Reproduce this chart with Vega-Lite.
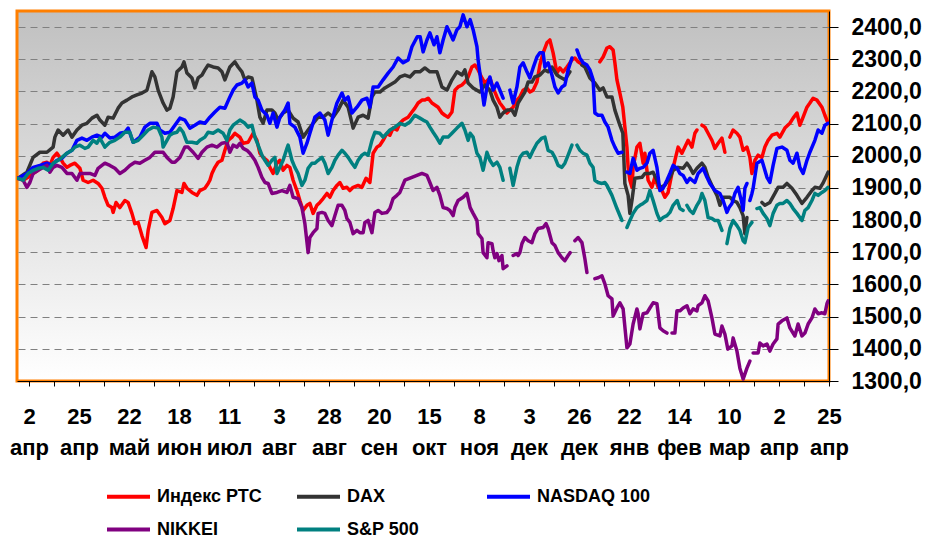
{
"$schema":"https://vega.github.io/schema/vega-lite/v6.json",
"width":812,"height":370,
"autosize":{"type":"none"},
"padding":{"left":17,"top":11,"right":99,"bottom":163},
"background":"#ffffff",
"data":{"values":[
{"s":"Индекс РТС","i":-3.7,"v":1930},{"s":"Индекс РТС","i":-2.0,"v":1924},{"s":"Индекс РТС","i":-0.3,"v":1933},{"s":"Индекс РТС","i":1.4,"v":1945},{"s":"Индекс РТС","i":3.1,"v":1955},{"s":"Индекс РТС","i":4.8,"v":1977},{"s":"Индекс РТС","i":6.1,"v":1980},{"s":"Индекс РТС","i":7.1,"v":1970},{"s":"Индекс РТС","i":8.2,"v":1995},{"s":"Индекс РТС","i":9.5,"v":2008},{"s":"Индекс РТС","i":10.5,"v":1995},{"s":"Индекс РТС","i":11.6,"v":1977},{"s":"Индекс РТС","i":12.9,"v":1964},{"s":"Индекс РТС","i":13.9,"v":1970},{"s":"Индекс РТС","i":15.6,"v":1977},{"s":"Индекс РТС","i":17.3,"v":1961},{"s":"Индекс РТС","i":18.4,"v":1924},{"s":"Индекс РТС","i":20.1,"v":1917},{"s":"Индекс РТС","i":21.8,"v":1924},{"s":"Индекс РТС","i":23.5,"v":1914},{"s":"Индекс РТС","i":24.8,"v":1899},{"s":"Индекс РТС","i":25.8,"v":1871},{"s":"Индекс РТС","i":26.9,"v":1846},{"s":"Индекс РТС","i":28.2,"v":1839},{"s":"Индекс РТС","i":28.6,"v":1824},{"s":"Индекс РТС","i":29.6,"v":1855},{"s":"Индекс РТС","i":30.9,"v":1839},{"s":"Индекс РТС","i":32.6,"v":1861},{"s":"Индекс РТС","i":33.7,"v":1855},{"s":"Индекс РТС","i":35.0,"v":1821},{"s":"Индекс РТС","i":36.0,"v":1789},{"s":"Индекс РТС","i":37.1,"v":1793},{"s":"Индекс РТС","i":38.4,"v":1752},{"s":"Индекс РТС","i":39.8,"v":1715},{"s":"Индекс РТС","i":40.5,"v":1768},{"s":"Индекс РТС","i":41.8,"v":1824},{"s":"Индекс РТС","i":43.5,"v":1830},{"s":"Индекс РТС","i":45.2,"v":1808},{"s":"Индекс РТС","i":46.2,"v":1789},{"s":"Индекс РТС","i":47.9,"v":1799},{"s":"Индекс РТС","i":49.0,"v":1836},{"s":"Индекс РТС","i":50.3,"v":1892},{"s":"Индекс РТС","i":52.0,"v":1886},{"s":"Индекс РТС","i":52.7,"v":1914},{"s":"Индекс РТС","i":53.7,"v":1899},{"s":"Индекс РТС","i":55.4,"v":1886},{"s":"Индекс РТС","i":57.1,"v":1877},{"s":"Индекс РТС","i":58.1,"v":1892},{"s":"Индекс РТС","i":59.8,"v":1899},{"s":"Индекс РТС","i":60.9,"v":1914},{"s":"Индекс РТС","i":61.5,"v":1924},{"s":"Индекс РТС","i":62.2,"v":1945},{"s":"Индекс РТС","i":63.2,"v":1964},{"s":"Индекс РТС","i":64.3,"v":1980},{"s":"Индекс РТС","i":65.6,"v":1986},{"s":"Индекс РТС","i":66.6,"v":2017},{"s":"Индекс РТС","i":67.7,"v":2048},{"s":"Индекс РТС","i":69.0,"v":2058},{"s":"Индекс РТС","i":70.0,"v":2070},{"s":"Индекс РТС","i":71.7,"v":2058},{"s":"Индекс РТС","i":72.8,"v":2039},{"s":"Индекс РТС","i":74.5,"v":2042},{"s":"Индекс РТС","i":76.2,"v":2070},{"s":"Индекс РТС","i":77.5,"v":2048},{"s":"Индекс РТС","i":78.5,"v":2008},{"s":"Индекс РТС","i":79.6,"v":1995},{"s":"Индекс РТС","i":80.9,"v":1986},{"s":"Индекс РТС","i":81.9,"v":1964},{"s":"Индекс РТС","i":83.0,"v":1945},{"s":"Индекс РТС","i":84.3,"v":1977},{"s":"Индекс РТС","i":85.3,"v":1986},{"s":"Индекс РТС","i":86.4,"v":1955},{"s":"Индекс РТС","i":87.7,"v":1970},{"s":"Индекс РТС","i":88.7,"v":1964},{"s":"Индекс РТС","i":89.8,"v":1924},{"s":"Индекс РТС","i":91.1,"v":1892},{"s":"Индекс РТС","i":92.1,"v":1861},{"s":"Индекс РТС","i":93.2,"v":1830},{"s":"Индекс РТС","i":94.5,"v":1846},{"s":"Индекс РТС","i":95.5,"v":1852},{"s":"Индекс РТС","i":96.6,"v":1821},{"s":"Индекс РТС","i":97.9,"v":1846},{"s":"Индекс РТС","i":98.9,"v":1855},{"s":"Индекс РТС","i":100.0,"v":1867},{"s":"Индекс РТС","i":101.3,"v":1883},{"s":"Индекс РТС","i":102.3,"v":1871},{"s":"Индекс РТС","i":103.4,"v":1892},{"s":"Индекс РТС","i":104.7,"v":1908},{"s":"Индекс РТС","i":105.7,"v":1917},{"s":"Индекс РТС","i":106.8,"v":1899},{"s":"Индекс РТС","i":108.1,"v":1902},{"s":"Индекс РТС","i":109.1,"v":1892},{"s":"Индекс РТС","i":110.2,"v":1902},{"s":"Индекс РТС","i":111.9,"v":1908},{"s":"Индекс РТС","i":113.2,"v":1902},{"s":"Индекс РТС","i":114.6,"v":1930},{"s":"Индекс РТС","i":115.9,"v":1917},{"s":"Индекс РТС","i":117.0,"v":2008},{"s":"Индекс РТС","i":118.3,"v":2027},{"s":"Индекс РТС","i":119.3,"v":2033},{"s":"Индекс РТС","i":120.4,"v":2048},{"s":"Индекс РТС","i":121.7,"v":2070},{"s":"Индекс РТС","i":122.7,"v":2064},{"s":"Индекс РТС","i":123.8,"v":2086},{"s":"Индекс РТС","i":125.1,"v":2080},{"s":"Индекс РТС","i":126.1,"v":2101},{"s":"Индекс РТС","i":127.2,"v":2111},{"s":"Индекс РТС","i":128.9,"v":2120},{"s":"Индекс РТС","i":130.2,"v":2136},{"s":"Индекс РТС","i":131.2,"v":2148},{"s":"Индекс РТС","i":132.3,"v":2164},{"s":"Индекс РТС","i":133.6,"v":2173},{"s":"Индекс РТС","i":134.6,"v":2173},{"s":"Индекс РТС","i":135.7,"v":2179},{"s":"Индекс РТС","i":137.0,"v":2164},{"s":"Индекс РТС","i":138.0,"v":2158},{"s":"Индекс РТС","i":139.1,"v":2151},{"s":"Индекс РТС","i":140.4,"v":2133},{"s":"Индекс РТС","i":141.4,"v":2126},{"s":"Индекс РТС","i":142.5,"v":2120},{"s":"Индекс РТС","i":143.8,"v":2136},{"s":"Индекс РТС","i":144.8,"v":2204},{"s":"Индекс РТС","i":145.9,"v":2214},{"s":"Индекс РТС","i":147.2,"v":2220},{"s":"Индекс РТС","i":148.2,"v":2229},{"s":"Индекс РТС","i":149.3,"v":2245},{"s":"Индекс РТС","i":150.6,"v":2276},{"s":"Индекс РТС","i":151.6,"v":2282},{"s":"Индекс РТС","i":152.7,"v":2267},{"s":"Индекс РТС","i":154.0,"v":2242},{"s":"Индекс РТС","i":155.0,"v":2226},{"s":"Индекс РТС","i":156.7,"v":2242},{"s":"Индекс РТС","i":157.8,"v":2211},{"s":"Индекс РТС","i":159.1,"v":2183},{"s":"Индекс РТС","i":160.1,"v":2164},{"s":"Индекс РТС","i":161.2,"v":2151},{"s":"Индекс РТС","i":162.5,"v":2133},{"s":"Индекс РТС","i":163.5,"v":2142},{"s":"Индекс РТС","i":164.6,"v":2151},{"s":"Индекс РТС","i":165.9,"v":2173},{"s":"Индекс РТС","i":166.9,"v":2183},{"s":"Индекс РТС","i":168.0,"v":2204},{"s":"Индекс РТС","i":169.3,"v":2211},{"s":"Индекс РТС","i":170.3,"v":2198},{"s":"Индекс РТС","i":171.4,"v":2204},{"s":"Индекс РТС","i":172.7,"v":2229},{"s":"Индекс РТС","i":173.7,"v":2282},{"s":"Индекс РТС","i":174.8,"v":2320},{"s":"Индекс РТС","i":176.1,"v":2351},{"s":"Индекс РТС","i":177.1,"v":2360},{"s":"Индекс РТС","i":178.2,"v":2320},{"s":"Индекс РТС","i":179.5,"v":2257},{"s":"Индекс РТС","i":180.5,"v":2273},{"s":"Индекс РТС","i":181.6,"v":2261},{"s":"Индекс РТС","i":182.9,"v":2276},{"s":"Индекс РТС","i":184.6,"v":2298},{"s":"Индекс РТС","i":185.6,"v":2304},{"s":"Индекс РТС","i":186.7,"v":2292},{"s":"Индекс РТС","i":188.4,"v":2282},{"s":"Индекс РТС","i":192.0,"v":null},{"s":"Индекс РТС","i":194.1,"v":2292},{"s":"Индекс РТС","i":195.2,"v":2307},{"s":"Индекс РТС","i":196.5,"v":2335},{"s":"Индекс РТС","i":197.5,"v":2339},{"s":"Индекс РТС","i":198.6,"v":2329},{"s":"Индекс РТС","i":199.2,"v":2289},{"s":"Индекс РТС","i":199.9,"v":2236},{"s":"Индекс РТС","i":200.9,"v":2195},{"s":"Индекс РТС","i":201.9,"v":2151},{"s":"Индекс РТС","i":202.6,"v":2089},{"s":"Индекс РТС","i":203.3,"v":2027},{"s":"Индекс РТС","i":203.7,"v":1964},{"s":"Индекс РТС","i":204.3,"v":1924},{"s":"Индекс РТС","i":205.0,"v":1902},{"s":"Индекс РТС","i":205.4,"v":1964},{"s":"Индекс РТС","i":206.7,"v":2027},{"s":"Индекс РТС","i":207.7,"v":2039},{"s":"Индекс РТС","i":208.8,"v":1977},{"s":"Индекс РТС","i":209.4,"v":2008},{"s":"Индекс РТС","i":210.5,"v":1924},{"s":"Индекс РТС","i":211.8,"v":1902},{"s":"Индекс РТС","i":212.8,"v":1933},{"s":"Индекс РТС","i":213.9,"v":1902},{"s":"Индекс РТС","i":215.2,"v":1892},{"s":"Индекс РТС","i":216.2,"v":1871},{"s":"Индекс РТС","i":217.3,"v":1886},{"s":"Индекс РТС","i":218.6,"v":1945},{"s":"Индекс РТС","i":219.6,"v":1986},{"s":"Индекс РТС","i":220.7,"v":2027},{"s":"Индекс РТС","i":222.0,"v":2008},{"s":"Индекс РТС","i":223.0,"v":2027},{"s":"Индекс РТС","i":224.1,"v":2048},{"s":"Индекс РТС","i":225.4,"v":2027},{"s":"Индекс РТС","i":226.4,"v":2070},{"s":"Индекс РТС","i":227.1,"v":2080},{"s":"Индекс РТС","i":228.0,"v":null},{"s":"Индекс РТС","i":228.8,"v":2095},{"s":"Индекс РТС","i":229.8,"v":2089},{"s":"Индекс РТС","i":230.9,"v":2070},{"s":"Индекс РТС","i":232.2,"v":2048},{"s":"Индекс РТС","i":233.2,"v":2023},{"s":"Индекс РТС","i":234.3,"v":2039},{"s":"Индекс РТС","i":235.6,"v":2055},{"s":"Индекс РТС","i":236.6,"v":2011},{"s":"Индекс РТС","i":237.5,"v":null},{"s":"Индекс РТС","i":238.3,"v":2058},{"s":"Индекс РТС","i":239.4,"v":2080},{"s":"Индекс РТС","i":240.7,"v":2070},{"s":"Индекс РТС","i":241.7,"v":2058},{"s":"Индекс РТС","i":242.8,"v":2017},{"s":"Индекс РТС","i":244.1,"v":2027},{"s":"Индекс РТС","i":245.1,"v":1995},{"s":"Индекс РТС","i":245.8,"v":1945},{"s":"Индекс РТС","i":246.8,"v":1986},{"s":"Индекс РТС","i":247.9,"v":2002},{"s":"Индекс РТС","i":249.2,"v":1995},{"s":"Индекс РТС","i":250.2,"v":2027},{"s":"Индекс РТС","i":251.3,"v":2048},{"s":"Индекс РТС","i":252.6,"v":2064},{"s":"Индекс РТС","i":254.3,"v":2070},{"s":"Индекс РТС","i":255.3,"v":2058},{"s":"Индекс РТС","i":257.0,"v":2086},{"s":"Индекс РТС","i":258.7,"v":2101},{"s":"Индекс РТС","i":259.8,"v":2117},{"s":"Индекс РТС","i":261.1,"v":2133},{"s":"Индекс РТС","i":262.1,"v":2095},{"s":"Индекс РТС","i":263.2,"v":2120},{"s":"Индекс РТС","i":264.5,"v":2151},{"s":"Индекс РТС","i":265.5,"v":2164},{"s":"Индекс РТС","i":266.6,"v":2179},{"s":"Индекс РТС","i":267.9,"v":2173},{"s":"Индекс РТС","i":269.6,"v":2151},{"s":"Индекс РТС","i":270.6,"v":2126},{"s":"Индекс РТС","i":271.7,"v":2101},

{"s":"DAX","i":-3.7,"v":1930},{"s":"DAX","i":-0.7,"v":1949},{"s":"DAX","i":1.4,"v":1995},{"s":"DAX","i":3.7,"v":2011},{"s":"DAX","i":6.1,"v":2011},{"s":"DAX","i":8.2,"v":2027},{"s":"DAX","i":8.8,"v":2058},{"s":"DAX","i":9.9,"v":2080},{"s":"DAX","i":11.6,"v":2064},{"s":"DAX","i":13.3,"v":2080},{"s":"DAX","i":14.6,"v":2058},{"s":"DAX","i":16.3,"v":2080},{"s":"DAX","i":18.0,"v":2095},{"s":"DAX","i":19.7,"v":2101},{"s":"DAX","i":21.4,"v":2117},{"s":"DAX","i":23.1,"v":2126},{"s":"DAX","i":24.1,"v":2111},{"s":"DAX","i":25.8,"v":2095},{"s":"DAX","i":26.9,"v":2120},{"s":"DAX","i":28.6,"v":2117},{"s":"DAX","i":30.3,"v":2148},{"s":"DAX","i":31.6,"v":2164},{"s":"DAX","i":33.3,"v":2173},{"s":"DAX","i":35.0,"v":2183},{"s":"DAX","i":36.7,"v":2189},{"s":"DAX","i":38.4,"v":2195},{"s":"DAX","i":40.1,"v":2204},{"s":"DAX","i":41.8,"v":2261},{"s":"DAX","i":42.8,"v":2245},{"s":"DAX","i":43.9,"v":2204},{"s":"DAX","i":45.6,"v":2164},{"s":"DAX","i":46.9,"v":2142},{"s":"DAX","i":47.9,"v":2148},{"s":"DAX","i":49.0,"v":2183},{"s":"DAX","i":50.3,"v":2261},{"s":"DAX","i":52.0,"v":2276},{"s":"DAX","i":52.7,"v":2292},{"s":"DAX","i":53.7,"v":2257},{"s":"DAX","i":55.4,"v":2242},{"s":"DAX","i":56.4,"v":2211},{"s":"DAX","i":57.5,"v":2242},{"s":"DAX","i":58.8,"v":2251},{"s":"DAX","i":59.8,"v":2267},{"s":"DAX","i":60.9,"v":2282},{"s":"DAX","i":62.6,"v":2276},{"s":"DAX","i":64.3,"v":2273},{"s":"DAX","i":65.6,"v":2261},{"s":"DAX","i":66.6,"v":2236},{"s":"DAX","i":68.3,"v":2276},{"s":"DAX","i":70.0,"v":2292},{"s":"DAX","i":71.1,"v":2276},{"s":"DAX","i":72.4,"v":2261},{"s":"DAX","i":73.4,"v":2236},{"s":"DAX","i":74.5,"v":2245},{"s":"DAX","i":75.8,"v":2242},{"s":"DAX","i":76.5,"v":2214},{"s":"DAX","i":77.5,"v":2173},{"s":"DAX","i":78.5,"v":2120},{"s":"DAX","i":79.6,"v":2101},{"s":"DAX","i":80.9,"v":2142},{"s":"DAX","i":82.6,"v":2142},{"s":"DAX","i":83.6,"v":2133},{"s":"DAX","i":84.7,"v":2111},{"s":"DAX","i":86.4,"v":2133},{"s":"DAX","i":88.1,"v":2142},{"s":"DAX","i":89.8,"v":2117},{"s":"DAX","i":91.5,"v":2105},{"s":"DAX","i":93.2,"v":2058},{"s":"DAX","i":94.9,"v":2080},{"s":"DAX","i":96.6,"v":2101},{"s":"DAX","i":98.3,"v":2120},{"s":"DAX","i":100.0,"v":2120},{"s":"DAX","i":101.7,"v":2133},{"s":"DAX","i":103.4,"v":2120},{"s":"DAX","i":105.1,"v":2142},{"s":"DAX","i":106.8,"v":2173},{"s":"DAX","i":108.5,"v":2151},{"s":"DAX","i":110.2,"v":2086},{"s":"DAX","i":111.9,"v":2120},{"s":"DAX","i":113.6,"v":2126},{"s":"DAX","i":115.3,"v":2117},{"s":"DAX","i":116.6,"v":2183},{"s":"DAX","i":117.6,"v":2198},{"s":"DAX","i":119.3,"v":2198},{"s":"DAX","i":121.0,"v":2211},{"s":"DAX","i":122.7,"v":2220},{"s":"DAX","i":124.4,"v":2229},{"s":"DAX","i":126.1,"v":2245},{"s":"DAX","i":127.8,"v":2251},{"s":"DAX","i":129.5,"v":2245},{"s":"DAX","i":131.2,"v":2261},{"s":"DAX","i":132.9,"v":2261},{"s":"DAX","i":134.6,"v":2273},{"s":"DAX","i":136.3,"v":2261},{"s":"DAX","i":138.7,"v":2261},{"s":"DAX","i":140.4,"v":2214},{"s":"DAX","i":142.1,"v":2204},{"s":"DAX","i":143.8,"v":2236},{"s":"DAX","i":145.5,"v":2261},{"s":"DAX","i":147.2,"v":2251},{"s":"DAX","i":148.2,"v":2267},{"s":"DAX","i":149.3,"v":2226},{"s":"DAX","i":151.0,"v":2211},{"s":"DAX","i":153.3,"v":2198},{"s":"DAX","i":155.0,"v":2220},{"s":"DAX","i":156.7,"v":2204},{"s":"DAX","i":157.8,"v":2173},{"s":"DAX","i":159.1,"v":2151},{"s":"DAX","i":160.1,"v":2120},{"s":"DAX","i":161.2,"v":2133},{"s":"DAX","i":162.5,"v":2142},{"s":"DAX","i":164.2,"v":2142},{"s":"DAX","i":165.2,"v":2126},{"s":"DAX","i":166.3,"v":2164},{"s":"DAX","i":167.6,"v":2183},{"s":"DAX","i":168.6,"v":2198},{"s":"DAX","i":169.7,"v":2229},{"s":"DAX","i":171.0,"v":2229},{"s":"DAX","i":172.0,"v":2245},{"s":"DAX","i":173.7,"v":2251},{"s":"DAX","i":175.4,"v":2267},{"s":"DAX","i":176.5,"v":2261},{"s":"DAX","i":177.8,"v":2276},{"s":"DAX","i":179.5,"v":2251},{"s":"DAX","i":180.5,"v":2245},{"s":"DAX","i":182.2,"v":2236},{"s":"DAX","i":183.9,"v":2261},{"s":"DAX","i":186.0,"v":null},{"s":"DAX","i":188.0,"v":2282},{"s":"DAX","i":189.0,"v":2276},{"s":"DAX","i":190.7,"v":2242},{"s":"DAX","i":192.4,"v":2226},{"s":"DAX","i":194.1,"v":2204},{"s":"DAX","i":195.2,"v":2211},{"s":"DAX","i":196.5,"v":2183},{"s":"DAX","i":198.2,"v":2183},{"s":"DAX","i":199.2,"v":2142},{"s":"DAX","i":200.9,"v":2095},{"s":"DAX","i":201.9,"v":2070},{"s":"DAX","i":202.6,"v":1914},{"s":"DAX","i":203.7,"v":1877},{"s":"DAX","i":204.3,"v":1821},{"s":"DAX","i":205.0,"v":1861},{"s":"DAX","i":206.0,"v":1930},{"s":"DAX","i":208.4,"v":1933},{"s":"DAX","i":209.4,"v":1945},{"s":"DAX","i":211.1,"v":1945},{"s":"DAX","i":212.2,"v":1949},{"s":"DAX","i":213.5,"v":1924},{"s":"DAX","i":214.5,"v":1902},{"s":"DAX","i":216.2,"v":1908},{"s":"DAX","i":218.0,"v":1933},{"s":"DAX","i":219.0,"v":1955},{"s":"DAX","i":220.7,"v":1964},{"s":"DAX","i":222.4,"v":1961},{"s":"DAX","i":223.7,"v":1977},{"s":"DAX","i":224.7,"v":1964},{"s":"DAX","i":225.8,"v":1945},{"s":"DAX","i":227.1,"v":1961},{"s":"DAX","i":228.8,"v":1977},{"s":"DAX","i":229.8,"v":1964},{"s":"DAX","i":230.9,"v":1933},{"s":"DAX","i":232.2,"v":1908},{"s":"DAX","i":233.9,"v":1877},{"s":"DAX","i":234.9,"v":1846},{"s":"DAX","i":236.0,"v":1871},{"s":"DAX","i":238.3,"v":1871},{"s":"DAX","i":239.4,"v":1861},{"s":"DAX","i":240.7,"v":1855},{"s":"DAX","i":241.7,"v":1839},{"s":"DAX","i":242.8,"v":1814},{"s":"DAX","i":243.4,"v":1758},{"s":"DAX","i":244.1,"v":1808},{"s":"DAX","i":246.5,"v":null},{"s":"DAX","i":249.2,"v":1855},{"s":"DAX","i":250.2,"v":1846},{"s":"DAX","i":251.9,"v":1855},{"s":"DAX","i":253.6,"v":1883},{"s":"DAX","i":254.7,"v":1902},{"s":"DAX","i":256.4,"v":1902},{"s":"DAX","i":257.7,"v":1914},{"s":"DAX","i":259.4,"v":1899},{"s":"DAX","i":261.1,"v":1877},{"s":"DAX","i":262.8,"v":1852},{"s":"DAX","i":264.5,"v":1871},{"s":"DAX","i":266.2,"v":1892},{"s":"DAX","i":267.2,"v":1902},{"s":"DAX","i":268.9,"v":1899},{"s":"DAX","i":269.9,"v":1914},{"s":"DAX","i":271.7,"v":1949},

{"s":"NASDAQ 100","i":-3.7,"v":1930},{"s":"NASDAQ 100","i":-0.7,"v":1945},{"s":"NASDAQ 100","i":1.4,"v":1964},{"s":"NASDAQ 100","i":3.7,"v":1970},{"s":"NASDAQ 100","i":6.1,"v":1977},{"s":"NASDAQ 100","i":7.8,"v":1970},{"s":"NASDAQ 100","i":9.5,"v":1986},{"s":"NASDAQ 100","i":11.2,"v":1992},{"s":"NASDAQ 100","i":12.9,"v":2008},{"s":"NASDAQ 100","i":14.6,"v":2017},{"s":"NASDAQ 100","i":16.3,"v":2048},{"s":"NASDAQ 100","i":18.0,"v":2055},{"s":"NASDAQ 100","i":19.7,"v":2048},{"s":"NASDAQ 100","i":21.4,"v":2058},{"s":"NASDAQ 100","i":23.1,"v":2064},{"s":"NASDAQ 100","i":24.8,"v":2058},{"s":"NASDAQ 100","i":25.8,"v":2070},{"s":"NASDAQ 100","i":27.5,"v":2055},{"s":"NASDAQ 100","i":29.2,"v":2058},{"s":"NASDAQ 100","i":30.9,"v":2070},{"s":"NASDAQ 100","i":32.6,"v":2073},{"s":"NASDAQ 100","i":33.7,"v":2086},{"s":"NASDAQ 100","i":35.4,"v":2042},{"s":"NASDAQ 100","i":37.7,"v":2058},{"s":"NASDAQ 100","i":39.4,"v":2089},{"s":"NASDAQ 100","i":41.1,"v":2101},{"s":"NASDAQ 100","i":43.5,"v":2101},{"s":"NASDAQ 100","i":44.5,"v":2080},{"s":"NASDAQ 100","i":46.2,"v":2070},{"s":"NASDAQ 100","i":47.9,"v":2073},{"s":"NASDAQ 100","i":49.6,"v":2095},{"s":"NASDAQ 100","i":51.3,"v":2117},{"s":"NASDAQ 100","i":53.0,"v":2111},{"s":"NASDAQ 100","i":54.7,"v":2086},{"s":"NASDAQ 100","i":56.4,"v":2095},{"s":"NASDAQ 100","i":58.1,"v":2105},{"s":"NASDAQ 100","i":59.8,"v":2101},{"s":"NASDAQ 100","i":61.5,"v":2120},{"s":"NASDAQ 100","i":63.2,"v":2136},{"s":"NASDAQ 100","i":64.9,"v":2151},{"s":"NASDAQ 100","i":66.6,"v":2148},{"s":"NASDAQ 100","i":68.3,"v":2183},{"s":"NASDAQ 100","i":69.4,"v":2204},{"s":"NASDAQ 100","i":70.7,"v":2220},{"s":"NASDAQ 100","i":72.4,"v":2226},{"s":"NASDAQ 100","i":73.4,"v":2236},{"s":"NASDAQ 100","i":74.5,"v":2214},{"s":"NASDAQ 100","i":75.8,"v":2226},{"s":"NASDAQ 100","i":76.8,"v":2183},{"s":"NASDAQ 100","i":77.9,"v":2173},{"s":"NASDAQ 100","i":79.2,"v":2142},{"s":"NASDAQ 100","i":80.9,"v":2126},{"s":"NASDAQ 100","i":81.9,"v":2101},{"s":"NASDAQ 100","i":83.0,"v":2133},{"s":"NASDAQ 100","i":84.3,"v":2089},{"s":"NASDAQ 100","i":85.3,"v":2120},{"s":"NASDAQ 100","i":87.0,"v":2142},{"s":"NASDAQ 100","i":88.1,"v":2164},{"s":"NASDAQ 100","i":88.7,"v":2101},{"s":"NASDAQ 100","i":90.4,"v":2089},{"s":"NASDAQ 100","i":92.1,"v":2058},{"s":"NASDAQ 100","i":93.2,"v":2008},{"s":"NASDAQ 100","i":94.5,"v":2039},{"s":"NASDAQ 100","i":95.5,"v":2070},{"s":"NASDAQ 100","i":97.2,"v":2120},{"s":"NASDAQ 100","i":98.9,"v":2133},{"s":"NASDAQ 100","i":100.6,"v":2111},{"s":"NASDAQ 100","i":101.7,"v":2064},{"s":"NASDAQ 100","i":103.0,"v":2111},{"s":"NASDAQ 100","i":104.7,"v":2164},{"s":"NASDAQ 100","i":106.4,"v":2195},{"s":"NASDAQ 100","i":107.4,"v":2173},{"s":"NASDAQ 100","i":108.5,"v":2183},{"s":"NASDAQ 100","i":109.8,"v":2133},{"s":"NASDAQ 100","i":111.5,"v":2151},{"s":"NASDAQ 100","i":113.2,"v":2173},{"s":"NASDAQ 100","i":114.9,"v":2179},{"s":"NASDAQ 100","i":115.9,"v":2151},{"s":"NASDAQ 100","i":117.0,"v":2214},{"s":"NASDAQ 100","i":118.7,"v":2214},{"s":"NASDAQ 100","i":120.4,"v":2236},{"s":"NASDAQ 100","i":122.1,"v":2257},{"s":"NASDAQ 100","i":123.8,"v":2276},{"s":"NASDAQ 100","i":125.5,"v":2304},{"s":"NASDAQ 100","i":127.2,"v":2289},{"s":"NASDAQ 100","i":128.9,"v":2298},{"s":"NASDAQ 100","i":130.2,"v":2339},{"s":"NASDAQ 100","i":132.0,"v":2370},{"s":"NASDAQ 100","i":133.0,"v":2370},{"s":"NASDAQ 100","i":134.0,"v":2323},{"s":"NASDAQ 100","i":135.3,"v":2360},{"s":"NASDAQ 100","i":136.3,"v":2382},{"s":"NASDAQ 100","i":137.7,"v":2345},{"s":"NASDAQ 100","i":138.7,"v":2370},{"s":"NASDAQ 100","i":139.7,"v":2320},{"s":"NASDAQ 100","i":140.8,"v":2360},{"s":"NASDAQ 100","i":142.1,"v":2401},{"s":"NASDAQ 100","i":143.1,"v":2382},{"s":"NASDAQ 100","i":144.2,"v":2360},{"s":"NASDAQ 100","i":145.5,"v":2392},{"s":"NASDAQ 100","i":146.5,"v":2401},{"s":"NASDAQ 100","i":147.6,"v":2438},{"s":"NASDAQ 100","i":148.9,"v":2401},{"s":"NASDAQ 100","i":150.0,"v":2423},{"s":"NASDAQ 100","i":151.0,"v":2392},{"s":"NASDAQ 100","i":152.3,"v":2339},{"s":"NASDAQ 100","i":152.7,"v":2298},{"s":"NASDAQ 100","i":153.3,"v":2257},{"s":"NASDAQ 100","i":154.0,"v":2204},{"s":"NASDAQ 100","i":154.7,"v":2158},{"s":"NASDAQ 100","i":155.7,"v":2214},{"s":"NASDAQ 100","i":156.7,"v":2245},{"s":"NASDAQ 100","i":157.8,"v":2204},{"s":"NASDAQ 100","i":159.1,"v":2226},{"s":"NASDAQ 100","i":160.1,"v":2204},{"s":"NASDAQ 100","i":161.2,"v":2179},{"s":"NASDAQ 100","i":162.3,"v":null},{"s":"NASDAQ 100","i":163.5,"v":2204},{"s":"NASDAQ 100","i":164.6,"v":2164},{"s":"NASDAQ 100","i":165.9,"v":2214},{"s":"NASDAQ 100","i":166.9,"v":2276},{"s":"NASDAQ 100","i":168.0,"v":2289},{"s":"NASDAQ 100","i":169.3,"v":2261},{"s":"NASDAQ 100","i":170.3,"v":2242},{"s":"NASDAQ 100","i":171.4,"v":2273},{"s":"NASDAQ 100","i":172.7,"v":2307},{"s":"NASDAQ 100","i":173.7,"v":2320},{"s":"NASDAQ 100","i":174.8,"v":2320},{"s":"NASDAQ 100","i":175.4,"v":2276},{"s":"NASDAQ 100","i":176.5,"v":2289},{"s":"NASDAQ 100","i":177.8,"v":2251},{"s":"NASDAQ 100","i":178.8,"v":2214},{"s":"NASDAQ 100","i":179.9,"v":2195},{"s":"NASDAQ 100","i":181.2,"v":2214},{"s":"NASDAQ 100","i":182.2,"v":2220},{"s":"NASDAQ 100","i":183.3,"v":2267},{"s":"NASDAQ 100","i":184.6,"v":2304},{"s":"NASDAQ 100","i":185.8,"v":null},{"s":"NASDAQ 100","i":186.3,"v":2329},{"s":"NASDAQ 100","i":187.3,"v":2304},{"s":"NASDAQ 100","i":188.4,"v":2289},{"s":"NASDAQ 100","i":189.7,"v":2282},{"s":"NASDAQ 100","i":190.7,"v":2267},{"s":"NASDAQ 100","i":191.8,"v":2236},{"s":"NASDAQ 100","i":192.4,"v":2133},{"s":"NASDAQ 100","i":193.5,"v":2126},{"s":"NASDAQ 100","i":194.8,"v":2126},{"s":"NASDAQ 100","i":195.8,"v":2105},{"s":"NASDAQ 100","i":196.9,"v":2089},{"s":"NASDAQ 100","i":198.2,"v":2048},{"s":"NASDAQ 100","i":199.2,"v":2027},{"s":"NASDAQ 100","i":200.3,"v":2008},{"s":"NASDAQ 100","i":201.6,"v":2011},{"s":"NASDAQ 100","i":202.4,"v":null},{"s":"NASDAQ 100","i":203.3,"v":1949},{"s":"NASDAQ 100","i":204.3,"v":1945},{"s":"NASDAQ 100","i":205.4,"v":1992},{"s":"NASDAQ 100","i":206.7,"v":1955},{"s":"NASDAQ 100","i":207.7,"v":1961},{"s":"NASDAQ 100","i":208.8,"v":1964},{"s":"NASDAQ 100","i":210.1,"v":1977},{"s":"NASDAQ 100","i":211.1,"v":2008},{"s":"NASDAQ 100","i":212.2,"v":2017},{"s":"NASDAQ 100","i":213.5,"v":1964},{"s":"NASDAQ 100","i":214.5,"v":1892},{"s":"NASDAQ 100","i":215.6,"v":1899},{"s":"NASDAQ 100","i":216.9,"v":1924},{"s":"NASDAQ 100","i":217.9,"v":1945},{"s":"NASDAQ 100","i":219.0,"v":1970},{"s":"NASDAQ 100","i":220.4,"v":1961},{"s":"NASDAQ 100","i":221.3,"v":1945},{"s":"NASDAQ 100","i":222.4,"v":1939},{"s":"NASDAQ 100","i":223.7,"v":1917},{"s":"NASDAQ 100","i":224.7,"v":1930},{"s":"NASDAQ 100","i":226.4,"v":1917},{"s":"NASDAQ 100","i":227.5,"v":1945},{"s":"NASDAQ 100","i":229.2,"v":1961},{"s":"NASDAQ 100","i":230.5,"v":1933},{"s":"NASDAQ 100","i":231.5,"v":1914},{"s":"NASDAQ 100","i":233.2,"v":1892},{"s":"NASDAQ 100","i":234.9,"v":1883},{"s":"NASDAQ 100","i":236.0,"v":1861},{"s":"NASDAQ 100","i":237.3,"v":1824},{"s":"NASDAQ 100","i":238.0,"v":1839},{"s":"NASDAQ 100","i":239.0,"v":1852},{"s":"NASDAQ 100","i":240.0,"v":1883},{"s":"NASDAQ 100","i":241.1,"v":1902},{"s":"NASDAQ 100","i":242.4,"v":1852},{"s":"NASDAQ 100","i":242.8,"v":1830},{"s":"NASDAQ 100","i":243.4,"v":1899},{"s":"NASDAQ 100","i":244.1,"v":1914},{"s":"NASDAQ 100","i":244.6,"v":null},{"s":"NASDAQ 100","i":245.1,"v":1861},{"s":"NASDAQ 100","i":245.8,"v":1883},{"s":"NASDAQ 100","i":246.2,"v":1899},{"s":"NASDAQ 100","i":247.5,"v":1977},{"s":"NASDAQ 100","i":249.2,"v":1986},{"s":"NASDAQ 100","i":250.9,"v":1933},{"s":"NASDAQ 100","i":251.9,"v":1917},{"s":"NASDAQ 100","i":253.0,"v":1970},{"s":"NASDAQ 100","i":254.3,"v":2023},{"s":"NASDAQ 100","i":256.0,"v":2027},{"s":"NASDAQ 100","i":257.7,"v":2017},{"s":"NASDAQ 100","i":258.7,"v":1986},{"s":"NASDAQ 100","i":259.8,"v":1977},{"s":"NASDAQ 100","i":261.1,"v":2008},{"s":"NASDAQ 100","i":262.1,"v":1964},{"s":"NASDAQ 100","i":263.2,"v":1945},{"s":"NASDAQ 100","i":264.5,"v":1986},{"s":"NASDAQ 100","i":265.5,"v":2011},{"s":"NASDAQ 100","i":267.2,"v":2048},{"s":"NASDAQ 100","i":268.3,"v":2080},{"s":"NASDAQ 100","i":269.6,"v":2070},{"s":"NASDAQ 100","i":270.6,"v":2095},{"s":"NASDAQ 100","i":271.7,"v":2101},

{"s":"NIKKEI","i":-3.7,"v":1930},{"s":"NIKKEI","i":-2.0,"v":1924},{"s":"NIKKEI","i":-0.7,"v":1902},{"s":"NIKKEI","i":0.3,"v":1917},{"s":"NIKKEI","i":1.4,"v":1945},{"s":"NIKKEI","i":3.1,"v":1955},{"s":"NIKKEI","i":4.8,"v":1964},{"s":"NIKKEI","i":6.1,"v":1970},{"s":"NIKKEI","i":7.1,"v":1949},{"s":"NIKKEI","i":8.2,"v":1964},{"s":"NIKKEI","i":9.5,"v":1970},{"s":"NIKKEI","i":11.2,"v":1964},{"s":"NIKKEI","i":12.9,"v":1945},{"s":"NIKKEI","i":14.6,"v":1945},{"s":"NIKKEI","i":16.3,"v":1924},{"s":"NIKKEI","i":17.3,"v":1945},{"s":"NIKKEI","i":19.0,"v":1945},{"s":"NIKKEI","i":20.7,"v":1945},{"s":"NIKKEI","i":22.4,"v":1939},{"s":"NIKKEI","i":23.5,"v":1961},{"s":"NIKKEI","i":24.8,"v":1970},{"s":"NIKKEI","i":25.8,"v":1977},{"s":"NIKKEI","i":27.5,"v":1970},{"s":"NIKKEI","i":29.2,"v":1961},{"s":"NIKKEI","i":30.9,"v":1945},{"s":"NIKKEI","i":32.6,"v":1955},{"s":"NIKKEI","i":34.3,"v":1970},{"s":"NIKKEI","i":36.0,"v":1980},{"s":"NIKKEI","i":37.7,"v":1977},{"s":"NIKKEI","i":39.4,"v":1986},{"s":"NIKKEI","i":41.1,"v":1995},{"s":"NIKKEI","i":42.8,"v":2011},{"s":"NIKKEI","i":44.5,"v":2011},{"s":"NIKKEI","i":45.6,"v":2011},{"s":"NIKKEI","i":46.9,"v":1995},{"s":"NIKKEI","i":48.6,"v":1980},{"s":"NIKKEI","i":49.6,"v":1980},{"s":"NIKKEI","i":51.3,"v":1995},{"s":"NIKKEI","i":53.0,"v":2027},{"s":"NIKKEI","i":54.1,"v":2027},{"s":"NIKKEI","i":55.8,"v":2011},{"s":"NIKKEI","i":57.5,"v":1992},{"s":"NIKKEI","i":58.8,"v":2011},{"s":"NIKKEI","i":60.5,"v":2027},{"s":"NIKKEI","i":62.2,"v":2033},{"s":"NIKKEI","i":63.9,"v":2027},{"s":"NIKKEI","i":65.6,"v":2039},{"s":"NIKKEI","i":67.3,"v":2042},{"s":"NIKKEI","i":68.3,"v":2011},{"s":"NIKKEI","i":69.4,"v":2033},{"s":"NIKKEI","i":70.7,"v":2027},{"s":"NIKKEI","i":71.7,"v":2039},{"s":"NIKKEI","i":72.8,"v":2023},{"s":"NIKKEI","i":74.1,"v":2017},{"s":"NIKKEI","i":75.1,"v":2008},{"s":"NIKKEI","i":76.8,"v":1986},{"s":"NIKKEI","i":77.9,"v":1964},{"s":"NIKKEI","i":79.2,"v":1933},{"s":"NIKKEI","i":80.2,"v":1917},{"s":"NIKKEI","i":81.3,"v":1914},{"s":"NIKKEI","i":82.6,"v":1883},{"s":"NIKKEI","i":84.3,"v":1886},{"s":"NIKKEI","i":86.0,"v":1892},{"s":"NIKKEI","i":87.7,"v":1886},{"s":"NIKKEI","i":88.7,"v":1908},{"s":"NIKKEI","i":89.8,"v":1871},{"s":"NIKKEI","i":91.5,"v":1867},{"s":"NIKKEI","i":92.8,"v":1839},{"s":"NIKKEI","i":93.8,"v":1789},{"s":"NIKKEI","i":94.9,"v":1699},{"s":"NIKKEI","i":95.5,"v":1746},{"s":"NIKKEI","i":96.6,"v":1761},{"s":"NIKKEI","i":97.9,"v":1774},{"s":"NIKKEI","i":98.3,"v":1821},{"s":"NIKKEI","i":99.6,"v":1824},{"s":"NIKKEI","i":100.6,"v":1821},{"s":"NIKKEI","i":101.7,"v":1799},{"s":"NIKKEI","i":103.0,"v":1783},{"s":"NIKKEI","i":104.0,"v":1814},{"s":"NIKKEI","i":105.1,"v":1846},{"s":"NIKKEI","i":106.4,"v":1846},{"s":"NIKKEI","i":107.4,"v":1830},{"s":"NIKKEI","i":108.1,"v":1805},{"s":"NIKKEI","i":109.1,"v":1793},{"s":"NIKKEI","i":110.2,"v":1758},{"s":"NIKKEI","i":111.5,"v":1768},{"s":"NIKKEI","i":112.5,"v":1761},{"s":"NIKKEI","i":113.6,"v":1761},{"s":"NIKKEI","i":114.2,"v":1793},{"s":"NIKKEI","i":115.3,"v":1799},{"s":"NIKKEI","i":116.6,"v":1761},{"s":"NIKKEI","i":117.6,"v":1824},{"s":"NIKKEI","i":118.7,"v":1830},{"s":"NIKKEI","i":120.0,"v":1821},{"s":"NIKKEI","i":121.7,"v":1824},{"s":"NIKKEI","i":122.7,"v":1836},{"s":"NIKKEI","i":123.8,"v":1867},{"s":"NIKKEI","i":125.1,"v":1877},{"s":"NIKKEI","i":126.1,"v":1886},{"s":"NIKKEI","i":127.8,"v":1924},{"s":"NIKKEI","i":130.2,"v":1933},{"s":"NIKKEI","i":131.9,"v":1939},{"s":"NIKKEI","i":133.6,"v":1945},{"s":"NIKKEI","i":135.3,"v":1939},{"s":"NIKKEI","i":136.3,"v":1917},{"s":"NIKKEI","i":137.4,"v":1892},{"s":"NIKKEI","i":138.7,"v":1902},{"s":"NIKKEI","i":139.7,"v":1877},{"s":"NIKKEI","i":140.8,"v":1839},{"s":"NIKKEI","i":142.1,"v":1836},{"s":"NIKKEI","i":143.1,"v":1830},{"s":"NIKKEI","i":144.2,"v":1814},{"s":"NIKKEI","i":144.8,"v":1839},{"s":"NIKKEI","i":145.9,"v":1861},{"s":"NIKKEI","i":147.6,"v":1871},{"s":"NIKKEI","i":148.9,"v":1883},{"s":"NIKKEI","i":150.0,"v":1839},{"s":"NIKKEI","i":151.0,"v":1821},{"s":"NIKKEI","i":152.3,"v":1799},{"s":"NIKKEI","i":152.7,"v":1758},{"s":"NIKKEI","i":154.0,"v":1743},{"s":"NIKKEI","i":154.4,"v":1699},{"s":"NIKKEI","i":155.7,"v":1683},{"s":"NIKKEI","i":156.1,"v":1730},{"s":"NIKKEI","i":157.4,"v":1727},{"s":"NIKKEI","i":157.8,"v":1705},{"s":"NIKKEI","i":158.4,"v":1683},{"s":"NIKKEI","i":159.1,"v":1696},{"s":"NIKKEI","i":159.8,"v":1674},{"s":"NIKKEI","i":160.8,"v":1690},{"s":"NIKKEI","i":161.2,"v":1649},{"s":"NIKKEI","i":162.5,"v":1658},{"s":"NIKKEI","i":163.6,"v":null},{"s":"NIKKEI","i":164.6,"v":1690},{"s":"NIKKEI","i":165.9,"v":1696},{"s":"NIKKEI","i":166.3,"v":1690},{"s":"NIKKEI","i":166.9,"v":1699},{"s":"NIKKEI","i":167.6,"v":1727},{"s":"NIKKEI","i":168.6,"v":1746},{"s":"NIKKEI","i":169.7,"v":1736},{"s":"NIKKEI","i":171.0,"v":1730},{"s":"NIKKEI","i":172.0,"v":1758},{"s":"NIKKEI","i":173.1,"v":1774},{"s":"NIKKEI","i":174.8,"v":1777},{"s":"NIKKEI","i":175.8,"v":1789},{"s":"NIKKEI","i":176.5,"v":1774},{"s":"NIKKEI","i":177.8,"v":1730},{"s":"NIKKEI","i":178.8,"v":1721},{"s":"NIKKEI","i":179.9,"v":1699},{"s":"NIKKEI","i":181.2,"v":1683},{"s":"NIKKEI","i":182.2,"v":1674},{"s":"NIKKEI","i":183.3,"v":1690},{"s":"NIKKEI","i":184.0,"v":1699},{"s":"NIKKEI","i":184.8,"v":null},{"s":"NIKKEI","i":185.6,"v":1736},{"s":"NIKKEI","i":186.7,"v":1746},{"s":"NIKKEI","i":188.0,"v":1730},{"s":"NIKKEI","i":189.0,"v":1680},{"s":"NIKKEI","i":189.7,"v":1637},{"s":"NIKKEI","i":191.0,"v":null},{"s":"NIKKEI","i":192.4,"v":1618},{"s":"NIKKEI","i":193.5,"v":1621},{"s":"NIKKEI","i":194.8,"v":1627},{"s":"NIKKEI","i":195.8,"v":1602},{"s":"NIKKEI","i":196.9,"v":1565},{"s":"NIKKEI","i":198.2,"v":1555},{"s":"NIKKEI","i":198.6,"v":1502},{"s":"NIKKEI","i":199.9,"v":1527},{"s":"NIKKEI","i":200.9,"v":1543},{"s":"NIKKEI","i":202.0,"v":1524},{"s":"NIKKEI","i":203.3,"v":1403},{"s":"NIKKEI","i":204.3,"v":1415},{"s":"NIKKEI","i":205.4,"v":1477},{"s":"NIKKEI","i":206.7,"v":1524},{"s":"NIKKEI","i":207.1,"v":1509},{"s":"NIKKEI","i":207.7,"v":1462},{"s":"NIKKEI","i":208.8,"v":1509},{"s":"NIKKEI","i":210.1,"v":1512},{"s":"NIKKEI","i":211.1,"v":1527},{"s":"NIKKEI","i":212.2,"v":1543},{"s":"NIKKEI","i":213.5,"v":1540},{"s":"NIKKEI","i":214.5,"v":1465},{"s":"NIKKEI","i":215.6,"v":1456},{"s":"NIKKEI","i":216.9,"v":1449},{"s":"NIKKEI","i":217.8,"v":null},{"s":"NIKKEI","i":218.6,"v":1449},{"s":"NIKKEI","i":219.6,"v":1449},{"s":"NIKKEI","i":220.3,"v":1518},{"s":"NIKKEI","i":221.3,"v":1518},{"s":"NIKKEI","i":222.4,"v":1527},{"s":"NIKKEI","i":223.7,"v":1534},{"s":"NIKKEI","i":224.7,"v":1509},{"s":"NIKKEI","i":225.8,"v":1524},{"s":"NIKKEI","i":227.1,"v":1518},{"s":"NIKKEI","i":227.5,"v":1534},{"s":"NIKKEI","i":228.8,"v":1543},{"s":"NIKKEI","i":229.8,"v":1565},{"s":"NIKKEI","i":230.9,"v":1549},{"s":"NIKKEI","i":232.2,"v":1496},{"s":"NIKKEI","i":233.2,"v":1446},{"s":"NIKKEI","i":234.9,"v":1440},{"s":"NIKKEI","i":235.6,"v":1471},{"s":"NIKKEI","i":236.6,"v":1446},{"s":"NIKKEI","i":237.6,"v":1399},{"s":"NIKKEI","i":239.0,"v":1409},{"s":"NIKKEI","i":239.4,"v":1434},{"s":"NIKKEI","i":240.7,"v":1393},{"s":"NIKKEI","i":241.7,"v":1340},{"s":"NIKKEI","i":242.8,"v":1306},{"s":"NIKKEI","i":244.1,"v":1340},{"s":"NIKKEI","i":245.1,"v":1362},{"s":"NIKKEI","i":245.6,"v":null},{"s":"NIKKEI","i":246.2,"v":1387},{"s":"NIKKEI","i":247.9,"v":1387},{"s":"NIKKEI","i":248.5,"v":1418},{"s":"NIKKEI","i":249.6,"v":1409},{"s":"NIKKEI","i":250.9,"v":1415},{"s":"NIKKEI","i":251.9,"v":1393},{"s":"NIKKEI","i":253.0,"v":1415},{"s":"NIKKEI","i":254.3,"v":1431},{"s":"NIKKEI","i":254.7,"v":1477},{"s":"NIKKEI","i":256.0,"v":1487},{"s":"NIKKEI","i":257.7,"v":1496},{"s":"NIKKEI","i":258.7,"v":1465},{"s":"NIKKEI","i":260.4,"v":1440},{"s":"NIKKEI","i":261.5,"v":1477},{"s":"NIKKEI","i":262.8,"v":1440},{"s":"NIKKEI","i":263.8,"v":1449},{"s":"NIKKEI","i":264.9,"v":1477},{"s":"NIKKEI","i":266.2,"v":1496},{"s":"NIKKEI","i":267.2,"v":1524},{"s":"NIKKEI","i":268.3,"v":1509},{"s":"NIKKEI","i":269.6,"v":1512},{"s":"NIKKEI","i":270.6,"v":1509},{"s":"NIKKEI","i":271.3,"v":1540},{"s":"NIKKEI","i":271.7,"v":1549},

{"s":"S&P 500","i":-3.7,"v":1930},{"s":"S&P 500","i":-2.0,"v":1924},{"s":"S&P 500","i":-0.3,"v":1945},{"s":"S&P 500","i":1.4,"v":1955},{"s":"S&P 500","i":3.1,"v":1961},{"s":"S&P 500","i":4.8,"v":1964},{"s":"S&P 500","i":6.5,"v":1955},{"s":"S&P 500","i":8.2,"v":1977},{"s":"S&P 500","i":9.9,"v":1986},{"s":"S&P 500","i":11.2,"v":1995},{"s":"S&P 500","i":12.9,"v":2008},{"s":"S&P 500","i":14.6,"v":2017},{"s":"S&P 500","i":15.6,"v":2027},{"s":"S&P 500","i":17.3,"v":2033},{"s":"S&P 500","i":19.0,"v":2023},{"s":"S&P 500","i":20.1,"v":2027},{"s":"S&P 500","i":21.8,"v":2048},{"s":"S&P 500","i":23.1,"v":2039},{"s":"S&P 500","i":24.1,"v":2055},{"s":"S&P 500","i":25.8,"v":2027},{"s":"S&P 500","i":27.5,"v":2042},{"s":"S&P 500","i":29.2,"v":2048},{"s":"S&P 500","i":30.9,"v":2058},{"s":"S&P 500","i":32.6,"v":2073},{"s":"S&P 500","i":34.3,"v":2073},{"s":"S&P 500","i":35.4,"v":2042},{"s":"S&P 500","i":37.1,"v":2048},{"s":"S&P 500","i":38.8,"v":2064},{"s":"S&P 500","i":40.5,"v":2080},{"s":"S&P 500","i":42.2,"v":2089},{"s":"S&P 500","i":43.9,"v":2086},{"s":"S&P 500","i":45.2,"v":2058},{"s":"S&P 500","i":45.6,"v":2027},{"s":"S&P 500","i":46.9,"v":2048},{"s":"S&P 500","i":47.9,"v":2064},{"s":"S&P 500","i":49.0,"v":2070},{"s":"S&P 500","i":50.3,"v":2073},{"s":"S&P 500","i":51.3,"v":2086},{"s":"S&P 500","i":52.4,"v":2073},{"s":"S&P 500","i":53.7,"v":2042},{"s":"S&P 500","i":55.4,"v":2042},{"s":"S&P 500","i":57.1,"v":2039},{"s":"S&P 500","i":58.1,"v":2048},{"s":"S&P 500","i":59.8,"v":2058},{"s":"S&P 500","i":60.9,"v":2073},{"s":"S&P 500","i":62.6,"v":2070},{"s":"S&P 500","i":64.3,"v":2080},{"s":"S&P 500","i":66.0,"v":2070},{"s":"S&P 500","i":67.3,"v":2048},{"s":"S&P 500","i":68.3,"v":2080},{"s":"S&P 500","i":69.4,"v":2095},{"s":"S&P 500","i":71.7,"v":2111},{"s":"S&P 500","i":73.4,"v":2101},{"s":"S&P 500","i":74.5,"v":2089},{"s":"S&P 500","i":75.8,"v":2095},{"s":"S&P 500","i":76.8,"v":2058},{"s":"S&P 500","i":77.9,"v":2033},{"s":"S&P 500","i":79.2,"v":2002},{"s":"S&P 500","i":80.2,"v":1986},{"s":"S&P 500","i":81.3,"v":1970},{"s":"S&P 500","i":82.6,"v":1986},{"s":"S&P 500","i":83.6,"v":1995},{"s":"S&P 500","i":84.3,"v":1945},{"s":"S&P 500","i":85.3,"v":1964},{"s":"S&P 500","i":86.4,"v":1986},{"s":"S&P 500","i":87.7,"v":2023},{"s":"S&P 500","i":88.1,"v":2033},{"s":"S&P 500","i":89.4,"v":1986},{"s":"S&P 500","i":90.4,"v":1964},{"s":"S&P 500","i":91.5,"v":1945},{"s":"S&P 500","i":92.8,"v":1908},{"s":"S&P 500","i":93.8,"v":1924},{"s":"S&P 500","i":94.9,"v":1961},{"s":"S&P 500","i":96.2,"v":1977},{"s":"S&P 500","i":97.2,"v":1977},{"s":"S&P 500","i":98.3,"v":1986},{"s":"S&P 500","i":99.6,"v":1995},{"s":"S&P 500","i":100.6,"v":1977},{"s":"S&P 500","i":101.7,"v":1945},{"s":"S&P 500","i":103.0,"v":1964},{"s":"S&P 500","i":104.0,"v":1986},{"s":"S&P 500","i":105.1,"v":2002},{"s":"S&P 500","i":106.4,"v":2017},{"s":"S&P 500","i":107.4,"v":2008},{"s":"S&P 500","i":108.5,"v":1995},{"s":"S&P 500","i":109.8,"v":1977},{"s":"S&P 500","i":110.8,"v":1964},{"s":"S&P 500","i":111.9,"v":1986},{"s":"S&P 500","i":113.2,"v":2002},{"s":"S&P 500","i":114.2,"v":2008},{"s":"S&P 500","i":115.3,"v":2002},{"s":"S&P 500","i":116.6,"v":2048},{"s":"S&P 500","i":117.6,"v":2073},{"s":"S&P 500","i":119.3,"v":2070},{"s":"S&P 500","i":120.4,"v":2058},{"s":"S&P 500","i":121.7,"v":2070},{"s":"S&P 500","i":122.7,"v":2080},{"s":"S&P 500","i":124.4,"v":2089},{"s":"S&P 500","i":126.1,"v":2101},{"s":"S&P 500","i":127.8,"v":2095},{"s":"S&P 500","i":129.5,"v":2105},{"s":"S&P 500","i":131.2,"v":2126},{"s":"S&P 500","i":132.9,"v":2117},{"s":"S&P 500","i":134.0,"v":2111},{"s":"S&P 500","i":135.3,"v":2105},{"s":"S&P 500","i":136.3,"v":2089},{"s":"S&P 500","i":137.4,"v":2073},{"s":"S&P 500","i":138.7,"v":2055},{"s":"S&P 500","i":139.7,"v":2039},{"s":"S&P 500","i":140.8,"v":2058},{"s":"S&P 500","i":142.5,"v":2058},{"s":"S&P 500","i":143.8,"v":2070},{"s":"S&P 500","i":145.5,"v":2086},{"s":"S&P 500","i":147.2,"v":2101},{"s":"S&P 500","i":148.2,"v":2080},{"s":"S&P 500","i":149.3,"v":2048},{"s":"S&P 500","i":150.0,"v":2070},{"s":"S&P 500","i":151.0,"v":2058},{"s":"S&P 500","i":152.3,"v":2008},{"s":"S&P 500","i":153.3,"v":1995},{"s":"S&P 500","i":154.4,"v":1955},{"s":"S&P 500","i":155.7,"v":2011},{"s":"S&P 500","i":156.7,"v":1986},{"s":"S&P 500","i":157.8,"v":1970},{"s":"S&P 500","i":159.1,"v":1980},{"s":"S&P 500","i":160.1,"v":1964},{"s":"S&P 500","i":161.2,"v":1924},{"s":"S&P 500","i":162.3,"v":null},{"s":"S&P 500","i":163.5,"v":1961},{"s":"S&P 500","i":164.6,"v":1908},{"s":"S&P 500","i":165.9,"v":1964},{"s":"S&P 500","i":166.9,"v":1995},{"s":"S&P 500","i":168.0,"v":2008},{"s":"S&P 500","i":169.3,"v":2011},{"s":"S&P 500","i":170.3,"v":1995},{"s":"S&P 500","i":171.4,"v":2017},{"s":"S&P 500","i":172.7,"v":2039},{"s":"S&P 500","i":174.4,"v":2055},{"s":"S&P 500","i":175.4,"v":2058},{"s":"S&P 500","i":176.5,"v":2017},{"s":"S&P 500","i":177.8,"v":2011},{"s":"S&P 500","i":178.8,"v":1995},{"s":"S&P 500","i":179.9,"v":1970},{"s":"S&P 500","i":181.2,"v":1964},{"s":"S&P 500","i":182.2,"v":1977},{"s":"S&P 500","i":183.3,"v":2002},{"s":"S&P 500","i":184.6,"v":2033},{"s":"S&P 500","i":185.8,"v":null},{"s":"S&P 500","i":186.3,"v":2033},{"s":"S&P 500","i":187.3,"v":2017},{"s":"S&P 500","i":188.4,"v":2008},{"s":"S&P 500","i":189.7,"v":2002},{"s":"S&P 500","i":190.7,"v":1977},{"s":"S&P 500","i":191.8,"v":1964},{"s":"S&P 500","i":192.4,"v":1924},{"s":"S&P 500","i":193.5,"v":1917},{"s":"S&P 500","i":194.8,"v":1914},{"s":"S&P 500","i":195.8,"v":1917},{"s":"S&P 500","i":196.5,"v":1908},{"s":"S&P 500","i":198.2,"v":1877},{"s":"S&P 500","i":199.9,"v":1836},{"s":"S&P 500","i":201.6,"v":1799},{"s":"S&P 500","i":202.4,"v":null},{"s":"S&P 500","i":203.3,"v":1777},{"s":"S&P 500","i":204.3,"v":1799},{"s":"S&P 500","i":205.4,"v":1821},{"s":"S&P 500","i":206.7,"v":1839},{"s":"S&P 500","i":207.7,"v":1846},{"s":"S&P 500","i":208.8,"v":1852},{"s":"S&P 500","i":210.1,"v":1861},{"s":"S&P 500","i":211.1,"v":1892},{"s":"S&P 500","i":212.2,"v":1861},{"s":"S&P 500","i":213.5,"v":1821},{"s":"S&P 500","i":214.5,"v":1799},{"s":"S&P 500","i":215.6,"v":1808},{"s":"S&P 500","i":216.9,"v":1814},{"s":"S&P 500","i":217.9,"v":1824},{"s":"S&P 500","i":219.0,"v":1846},{"s":"S&P 500","i":220.4,"v":1861},{"s":"S&P 500","i":221.3,"v":1836},{"s":"S&P 500","i":222.4,"v":1830},{"s":"S&P 500","i":223.0,"v":null},{"s":"S&P 500","i":223.7,"v":1846},{"s":"S&P 500","i":224.7,"v":1830},{"s":"S&P 500","i":225.8,"v":1821},{"s":"S&P 500","i":227.1,"v":1846},{"s":"S&P 500","i":228.1,"v":1861},{"s":"S&P 500","i":228.8,"v":1883},{"s":"S&P 500","i":229.8,"v":1861},{"s":"S&P 500","i":230.9,"v":1808},{"s":"S&P 500","i":232.2,"v":1805},{"s":"S&P 500","i":233.2,"v":1799},{"s":"S&P 500","i":234.3,"v":1799},{"s":"S&P 500","i":235.6,"v":1768},{"s":"S&P 500","i":236.2,"v":null},{"s":"S&P 500","i":237.3,"v":1727},{"s":"S&P 500","i":238.3,"v":1774},{"s":"S&P 500","i":239.4,"v":1799},{"s":"S&P 500","i":240.7,"v":1783},{"s":"S&P 500","i":241.7,"v":1768},{"s":"S&P 500","i":242.8,"v":1736},{"s":"S&P 500","i":243.4,"v":1730},{"s":"S&P 500","i":244.5,"v":1777},{"s":"S&P 500","i":245.8,"v":1793},{"s":"S&P 500","i":246.7,"v":null},{"s":"S&P 500","i":247.5,"v":1836},{"s":"S&P 500","i":248.5,"v":1839},{"s":"S&P 500","i":249.6,"v":1821},{"s":"S&P 500","i":250.9,"v":1805},{"s":"S&P 500","i":251.9,"v":1783},{"s":"S&P 500","i":253.0,"v":1821},{"s":"S&P 500","i":254.3,"v":1846},{"s":"S&P 500","i":255.3,"v":1852},{"s":"S&P 500","i":256.4,"v":1852},{"s":"S&P 500","i":257.7,"v":1861},{"s":"S&P 500","i":258.7,"v":1852},{"s":"S&P 500","i":259.8,"v":1836},{"s":"S&P 500","i":261.1,"v":1821},{"s":"S&P 500","i":262.8,"v":1799},{"s":"S&P 500","i":263.8,"v":1830},{"s":"S&P 500","i":264.9,"v":1839},{"s":"S&P 500","i":266.2,"v":1861},{"s":"S&P 500","i":267.2,"v":1883},{"s":"S&P 500","i":268.3,"v":1877},{"s":"S&P 500","i":269.6,"v":1886},{"s":"S&P 500","i":270.6,"v":1892},{"s":"S&P 500","i":271.7,"v":1902}
]},
"mark":{"type":"line","strokeWidth":3.5,"strokeJoin":"round","strokeCap":"round","clip":true},
"encoding":{
"x":{"field":"i","type":"quantitative","scale":{"domain":[-4.08,272],"nice":false,"zero":false},
"axis":{"title":null,"values":[0,8.5,17,25.5,34,42.5,51,59.5,68,76.5,85,93.5,102,110.5,119,127.5,136,144.5,153,161.5,170,178.5,187,195.5,204,212.5,221,229.5,238,246.5,255,263.5,272],
"labelExpr":"datum.value % 17 == 0 ? [['2','25','22','18','11','3','28','20','15','8','3','26','22','14','10','2','25'][datum.value/17], ['апр','апр','май','июн','июл','авг','авг','сен','окт','ноя','дек','дек','янв','фев','мар','апр','апр'][datum.value/17]] : ''",
"labelOverlap":false,"labelFlush":false,"labelBound":false,"grid":false,"tickSize":5,"tickColor":"#000000","domainColor":"#000000","labelFontSize":22,"labelFontWeight":"bold","labelFont":"Arial, Liberation Sans","labelColor":"#000000","labelPadding":20,"labelLineHeight":31}},
"y":{"field":"v","type":"quantitative","scale":{"domain":[1300,2450],"nice":false,"zero":false},
"axis":{"title":null,"orient":"right","values":[1300,1400,1500,1600,1700,1800,1900,2000,2100,2200,2300,2400],
"labelExpr":"replace(format(datum.value,'.1f'),'.',',')","grid":true,"gridColor":"#808080","gridDash":[7,5],"gridWidth":1,"tickSize":9,"tickColor":"#000000","domainColor":"#000000","labelFontSize":23,"labelFontWeight":"bold","labelFont":"Arial, Liberation Sans","labelColor":"#000000","labelPadding":13,"labelBaseline":"middle"}},
"color":{"field":"s","type":"nominal","sort":["Индекс РТС","DAX","NASDAQ 100","NIKKEI","S&P 500"],
"scale":{"domain":["Индекс РТС","DAX","NASDAQ 100","NIKKEI","S&P 500"],"range":["#ff0000","#333333","#0000ff","#800080","#008080"]},
"legend":{"title":null,"orient":"none","legendX":88,"legendY":462,"direction":"horizontal","columns":3,"gridAlign":"all","columnPadding":18,"rowPadding":-4,"padding":0,"symbolType":"stroke","symbolSize":1849,"symbolStrokeWidth":4,"labelFont":"Arial, Liberation Sans","labelFontSize":18,"labelFontWeight":"bold","labelColor":"#000000","labelOffset":5,"labelLimit":300}}
},
"config":{"view":{"fill":{"gradient":"linear","x1":0,"y1":0,"x2":0,"y2":1,"stops":[{"offset":0,"color":"#c0c0c0"},{"offset":1,"color":"#ffffff"}]},"stroke":"#ff7f00","strokeWidth":3}}
}
